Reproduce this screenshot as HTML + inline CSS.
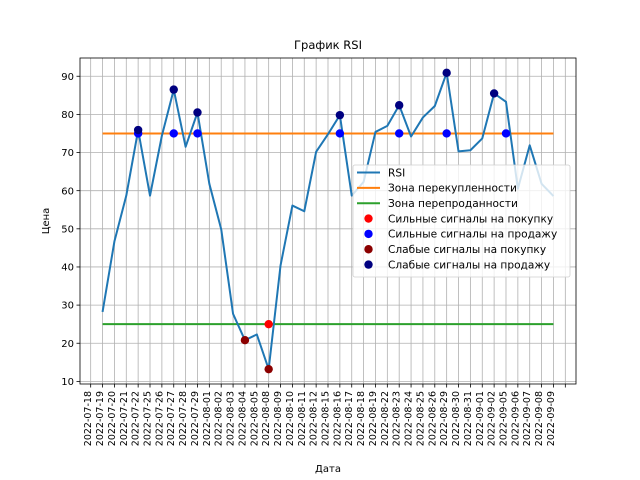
<!DOCTYPE html>
<html><head><meta charset="utf-8"><style>
html,body{margin:0;padding:0;background:#fff;}
svg{display:block;font-family:"DejaVu Sans","Liberation Sans",sans-serif;}
</style></head><body>
<svg id="chart" width="640" height="480" viewBox="0 0 640 480">
<rect width="640" height="480" fill="#fff"/>
<text x="328" y="49" font-size="11.5" text-anchor="middle" fill="#000">График RSI</text>
<text x="328" y="472" font-size="10" text-anchor="middle" fill="#000">Дата</text>
<text x="0" y="0" font-size="10" text-anchor="middle" fill="#000" transform="translate(49,221) rotate(-90)">Цена</text>
<g id="grid"></g><g id="series"></g><g id="axes"></g><g id="legend"></g>
</svg>
<script>
const dates = ["2022-07-18","2022-07-19","2022-07-20","2022-07-21","2022-07-22","2022-07-25","2022-07-26","2022-07-27","2022-07-28","2022-07-29","2022-08-01","2022-08-02","2022-08-03","2022-08-04","2022-08-05","2022-08-08","2022-08-09","2022-08-10","2022-08-11","2022-08-12","2022-08-15","2022-08-16","2022-08-17","2022-08-18","2022-08-19","2022-08-22","2022-08-23","2022-08-24","2022-08-25","2022-08-26","2022-08-29","2022-08-30","2022-08-31","2022-09-01","2022-09-02","2022-09-05","2022-09-06","2022-09-07","2022-09-08","2022-09-09"];
const rsi = [28.2,46.7,58.7,75.9,58.7,74.4,86.5,71.5,80.5,61.8,49.9,27.7,20.8,22.3,13.2,40.4,56.1,54.6,70.2,74.8,79.8,58.7,62.3,75.4,77.0,82.4,74.2,79.2,82.2,90.9,70.3,70.6,73.7,85.5,83.3,60.5,71.9,61.8,58.6];
const overbought = 75;
const oversold = 25;
const strongBuyIdx = [14];
const strongSellIdx = [3,6,8,20,25,29,34];
const weakBuyIdx = [12,14];
const weakSellIdx = [3,6,8,20,25,29,33];
const yTicks = [10,20,30,40,50,60,70,80,90];

const NS="http://www.w3.org/2000/svg";
const L=80,R=576,T=58,B=384;
const nTicks=dates.length+1;
const x0=1,x1=rsi.length;
const xm=(x1-x0)*0.05;
const xmin=x0-xm,xmax=x1+xm;
const ymn=Math.min(...rsi,oversold),ymx=Math.max(...rsi,overbought);
const ym=(ymx-ymn)*0.05;
const ymin=ymn-ym,ymax=ymx+ym;
function X(k){return L+(k-xmin)/(xmax-xmin)*(R-L);}
function Y(v){return B-(v-ymin)/(ymax-ymin)*(B-T);}
function mk(tag,attrs,parent){const e=document.createElementNS(NS,tag);for(const k in attrs)e.setAttribute(k,attrs[k]);parent.appendChild(e);return e;}
const grid=document.getElementById('grid'),series=document.getElementById('series'),axes=document.getElementById('axes'),legend=document.getElementById('legend');

for(let k=0;k<nTicks;k++){
  const x=X(k);
  const g=mk('line',{x1:x,x2:x,y1:T,y2:B,stroke:'#b0b0b0','stroke-width':0.8},grid);
  
  
  const t=mk('line',{x1:x,x2:x,y1:B,y2:B+3.5,stroke:'#000','stroke-width':0.8},axes);
  
  
  if(k<dates.length){
    const lb=mk('text',{x:0,y:0,'font-size':9.5,'text-anchor':'end',fill:'#000',transform:`translate(${x+0.5},391) rotate(-90)`},axes);
    lb.textContent=dates[k];
    
    
  }
}
yTicks.forEach(v=>{
  const y=Y(v);
  const g=mk('line',{x1:L,x2:R,y1:y,y2:y,stroke:'#b0b0b0','stroke-width':0.8},grid);
  
  
  const t=mk('line',{x1:L-3.5,x2:L,y1:y,y2:y,stroke:'#000','stroke-width':0.8},axes);
  
  
  const lb=mk('text',{x:L-6,y:y+3.6,'font-size':10,'text-anchor':'end',fill:'#000'},axes);
  lb.textContent=v;
  
  
});
const frame=mk('rect',{x:L,y:T,width:R-L,height:B-T,fill:'none',stroke:'#000','stroke-width':0.8},axes);



const ob=mk('line',{x1:X(1),x2:X(rsi.length),y1:Y(overbought),y2:Y(overbought),stroke:'#ff7f0e','stroke-width':2},series);


const os=mk('line',{x1:X(1),x2:X(rsi.length),y1:Y(oversold),y2:Y(oversold),stroke:'#2ca02c','stroke-width':2},series);


const pl=mk('polyline',{points:rsi.map((v,i)=>X(i+1)+','+Y(v)).join(' '),fill:'none',stroke:'#1f77b4','stroke-width':2,'stroke-linejoin':'round'},series);



function dots(idx,valFn,color,name){
  idx.forEach(i=>{
    const c=mk('circle',{cx:X(i+1),cy:Y(valFn(i)),r:4.2,fill:color},series);
    
    
  });
}
dots(strongBuyIdx,()=>oversold,'#ff0000','strong-buy-signal');
dots(strongSellIdx,()=>overbought,'#0000ff','strong-sell-signal');
dots(weakBuyIdx,i=>rsi[i],'#8b0000','weak-buy-signal');
dots(weakSellIdx,i=>rsi[i],'#000080','weak-sell-signal');

const lg=mk('rect',{x:353,y:165,width:217,height:112,rx:2,fill:'#fff','fill-opacity':0.8,stroke:'#d0d0d0','stroke-width':0.8},legend);


const entries=[["RSI","line","#1f77b4"],["Зона перекупленности","line","#ff7f0e"],["Зона перепроданности","line","#2ca02c"],["Сильные сигналы на покупку","dot","#ff0000"],["Сильные сигналы на продажу","dot","#0000ff"],["Слабые сигналы на покупку","dot","#8b0000"],["Слабые сигналы на продажу","dot","#000080"]];
entries.forEach((e,j)=>{
  const y=172.5+j*15.35;
  if(e[1]==='line'){
    const h=mk('line',{x1:357,x2:380,y1:y,y2:y,stroke:e[2],'stroke-width':2},legend);
    
    
  }else{
    const h=mk('circle',{cx:368.5,cy:y,r:4.2,fill:e[2]},legend);
    
    
  }
  const t=mk('text',{x:388,y:y+3.8,'font-size':10.6,fill:'#000'},legend);
  t.textContent=e[0];
  
  
});
</script>
</body></html>
